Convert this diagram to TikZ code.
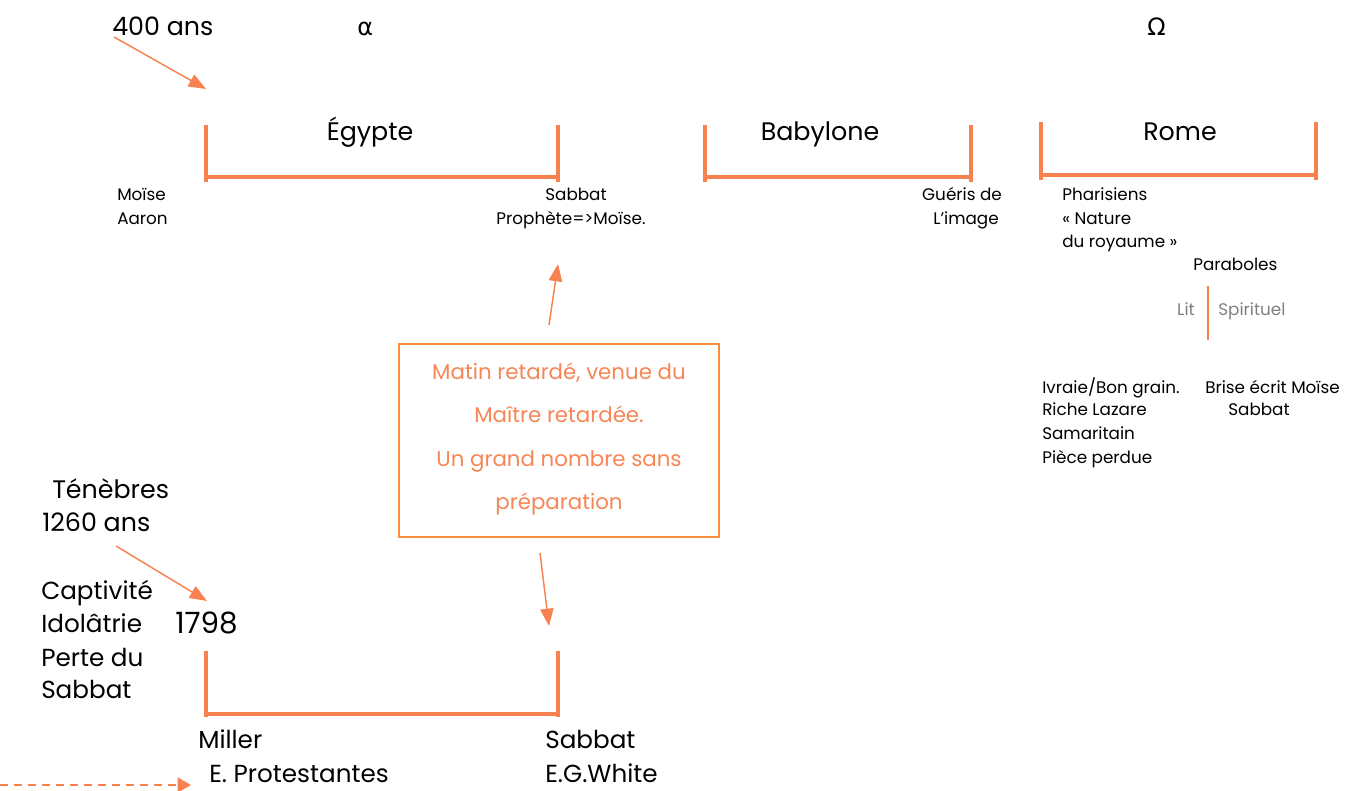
\documentclass[tikz,border=0pt]{standalone}
\usepackage{fontspec}
\setmainfont{Poppins}
\newfontfamily\greekfont{DejaVu Sans}
\usetikzlibrary{arrows.meta}
\definecolor{lineor}{RGB}{247,130,80}
\definecolor{boxor}{RGB}{250,140,60}
\definecolor{txtor}{RGB}{246,134,86}
\definecolor{graytxt}{RGB}{128,128,128}
\begin{document}
\begin{tikzpicture}[x=0.75pt,y=-0.75pt,
  lbl/.style={inner sep=0pt, anchor=base west},
  big/.style={lbl, font=\fontsize{19}{22}\selectfont},
  mid/.style={lbl, font=\fontsize{18.5}{20}\selectfont},
  small/.style={lbl, font=\fontsize{12.6}{14}\selectfont},
  boxtxt/.style={inner sep=0pt, anchor=base, text=txtor, font=\fontsize{16}{18}\selectfont},
  bracket/.style={draw=lineor, line width=2.4pt},
  pointer/.style={draw=lineor, line width=1.1pt, -{Triangle[length=13pt,width=10pt]}},
]
\useasboundingbox (0,0) rectangle (1356,791);

% headings
\node[big] (ans400) at (112,36) {400 ans};
\node[big, font=\greekfont\fontsize{18}{22}\selectfont] (alpha) at (357,36) {α};
\node[big, font=\greekfont\fontsize{18}{22}\selectfont] (omega) at (1147,36) {Ω};
\coordinate (egtip) at (206,89);
\draw[pointer] (114,37) -- (egtip);

% upper brackets
\draw[bracket] (206,125) -- (206,182) (206,177) -- (558,177) (558,125) -- (558,182);
\draw[bracket] (705,125) -- (705,182) (705,177) -- (971,177) (971,125) -- (971,182);
\draw[bracket] (1041,122) -- (1041,180) (1041,175) -- (1316,175) (1316,122) -- (1316,180);
\node[big, anchor=base] (egypte) at (370,141) {Égypte};
\node[big, anchor=base] (babylone) at (820,141) {Babylone};
\node[big, anchor=base] (rome) at (1180,141) {Rome};

% notes under the brackets
\node[small] (moise) at (117,201) {Moïse};
\node[small] (aaron) at (117,225) {Aaron};
\node[small, anchor=base] (sabbat1) at (576,201) {Sabbat};
\node[small, anchor=base] (prophete) at (571,225) {Prophète=>Moïse.};
\node[small, anchor=base] (gueris) at (962,201) {Guéris de};
\node[small, anchor=base] (image) at (966,225) {L’image};
\node[small] (phar) at (1062,201) {Pharisiens};
\node[small] (nature) at (1062,225) {« Nature};
\node[small] (royaume) at (1062,248) {du royaume »};
\node[small] (paraboles) at (1193,271) {Paraboles};
\draw[lineor, line width=0.9pt] (1208,286) -- (1208,340);
\node[small, text=graytxt, anchor=base east] (lit) at (1195,316) {Lit};
\node[small, text=graytxt] (spirituel) at (1218,316) {Spirituel};
\node[small] (ivraie) at (1042,393) {Ivraie/Bon grain.};
\node[small] (riche) at (1042,416) {Riche Lazare};
\node[small] (samar) at (1042,439) {Samaritain};
\node[small] (piece) at (1042,463) {Pièce perdue};
\node[small] (brise) at (1205,393) {Brise écrit Moïse};
\node[small] (sabbat2) at (1228,416) {Sabbat};

% central box
\draw[draw=boxor, line width=1.6pt] (399,344) rectangle (719,537);
\coordinate (boxtop) at (549,325);
\coordinate (boxbot) at (540,553);
\node[boxtxt] (b1) at (559,379) {Matin retardé, venue du};
\node[boxtxt] (b2) at (559,422) {Maître retardée.};
\node[boxtxt] (b3) at (559,466) {Un grand nombre sans};
\node[boxtxt] (b4) at (559,509) {préparation};
\coordinate (uptip) at (558,264);
\coordinate (downtip) at (549,626);
\draw[pointer] (boxtop) -- (uptip);
\draw[pointer] (boxbot) -- (downtip);

% lower part
\node[big] (tenebres) at (52,498) {Ténèbres};
\node[big] (ans1260) at (42,531) {1260 ans};
\coordinate (tentip) at (207,601);
\draw[pointer] (116,546) -- (tentip);
\node[mid] (capt) at (41,599) {Captivité};
\node[mid] (idol) at (41,632) {Idolâtrie};
\node[mid] (perte) at (41,666) {Perte du};
\node[mid] (sabbat3) at (41,698) {Sabbat};
\node[big, font=\fontsize{22}{24}\selectfont] (y1798) at (175,633) {1798};
\draw[bracket] (206,651) -- (206,717) (206,714) -- (558,714) (558,651) -- (558,717);
\node[mid] (miller) at (198,748) {Miller};
\node[mid] (prot) at (209,782) {E. Protestantes};
\node[mid] (sabbat4) at (545,748) {Sabbat};
\node[mid] (white) at (545,782) {E.G.White};
\coordinate (dstart) at (0,785);
\coordinate (dend) at (191,785);
\draw[draw=lineor, line width=1.9pt, dash pattern=on 6pt off 4.5pt, -{Triangle[length=10pt,width=11pt]}] (dstart) -- (dend);
\end{tikzpicture}
\end{document}
